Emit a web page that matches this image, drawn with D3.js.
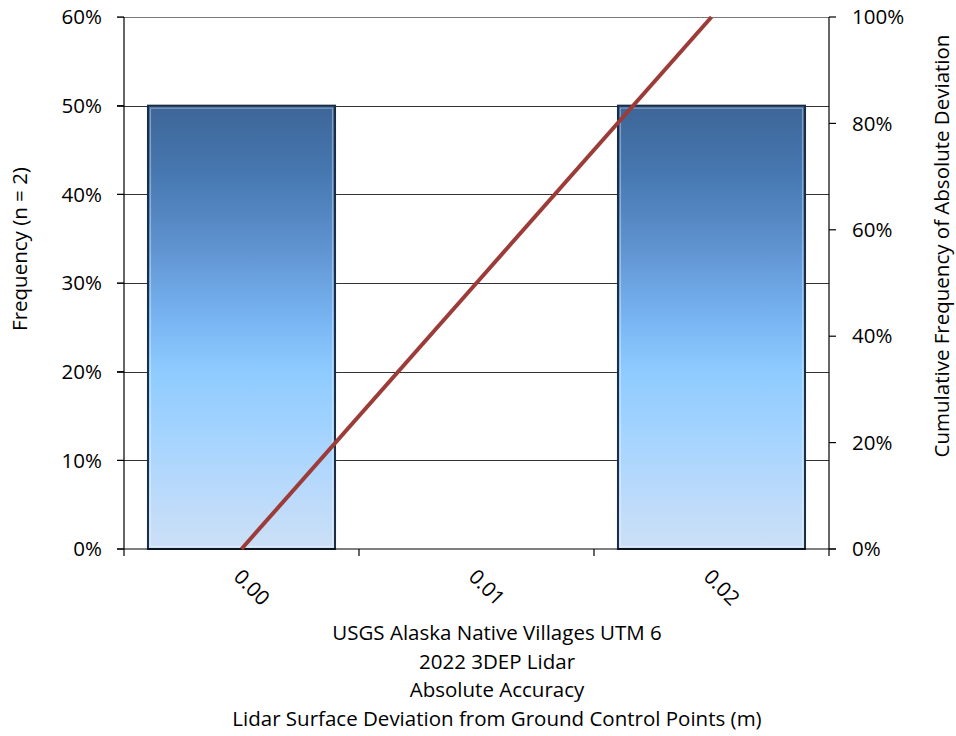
<!DOCTYPE html>
<html><head><meta charset="utf-8">
<script src="https://cdn.jsdelivr.net/npm/d3@7"></script>
<style>body{margin:0;background:#fff}svg{display:block}text{font-family:"Open Sans",sans-serif;fill:#000}</style>
</head><body>
<script>
const categories = ["0.00", "0.01", "0.02"];
const frequency = [0.5, 0, 0.5];
const cumulative = [0, 0.5, 1.0];
const leftTicks = [0, 0.1, 0.2, 0.3, 0.4, 0.5, 0.6];
const rightTicks = [0, 0.2, 0.4, 0.6, 0.8, 1.0];
const titleLines = ["USGS Alaska Native Villages UTM 6", "2022 3DEP Lidar", "Absolute Accuracy", "Lidar Surface Deviation from Ground Control Points (m)"];

const W = 956, H = 736;
const L = 124, R = 829, T = 17, B = 549;
const FS = 20.5;
const svg = d3.select("body").append("svg").attr("width", W).attr("height", H);

const defs = svg.append("defs");
const g = defs.append("linearGradient").attr("id", "barg").attr("x1", 0).attr("y1", 0).attr("x2", 0).attr("y2", 1);
[[0, "#3d6698"], [0.15, "#4677b0"], [0.32, "#5f93d0"], [0.48, "#78b4f2"], [0.6, "#8ecbff"], [0.75, "#a5d4ff"], [0.9, "#bedbfa"], [1, "#cbe0f6"]]
  .forEach(([o, c]) => g.append("stop").attr("offset", o).attr("stop-color", c));

const x = d3.scaleBand().domain(categories).range([L, R]).padding(0);
const yL = d3.scaleLinear().domain([0, 0.6]).range([B, T]);
const yR = d3.scaleLinear().domain([0, 1]).range([B, T]);

// gridlines
svg.append("g").selectAll("line").data(leftTicks.slice(1)).join("line")
  .attr("x1", L - 7).attr("x2", R).attr("y1", d => Math.round(yL(d)) + 0.5).attr("y2", d => Math.round(yL(d)) + 0.5)
  .attr("stroke", d => d === 0.6 ? "#7a7a7a" : "#333").attr("stroke-width", 1);

// bars
const bw = x.bandwidth() * 0.796;
const bars = svg.append("g").selectAll("g").data(categories.map((c, i) => ({c, v: frequency[i]})).filter(d => d.v > 0)).join("g");
bars.append("rect")
  .attr("x", d => x(d.c) + (x.bandwidth() - bw) / 2).attr("width", bw)
  .attr("y", d => yL(d.v)).attr("height", d => B - yL(d.v))
  .attr("fill", "url(#barg)").attr("stroke", "#1b2d44").attr("stroke-width", 2);
bars.append("rect")
  .attr("x", d => x(d.c) + (x.bandwidth() - bw) / 2 + 2.5).attr("width", bw - 5)
  .attr("y", d => yL(d.v) + 2.5).attr("height", d => B - yL(d.v) - 5)
  .attr("fill", "none").attr("stroke", "rgba(255,255,255,0.35)").attr("stroke-width", 1.2);

// axes
const ax = svg.append("g").attr("stroke", "#000").attr("stroke-width", 1.2);
ax.append("line").attr("x1", L).attr("x2", L).attr("y1", T).attr("y2", B + 7);
ax.append("line").attr("x1", R).attr("x2", R).attr("y1", T).attr("y2", B + 7);
ax.append("line").attr("x1", L - 7).attr("x2", R + 7).attr("y1", B).attr("y2", B);
leftTicks.forEach(t => ax.append("line").attr("x1", L - 7).attr("x2", L).attr("y1", yL(t)).attr("y2", yL(t)));
rightTicks.forEach(t => ax.append("line").attr("x1", R).attr("x2", R + 7).attr("y1", yR(t)).attr("y2", yR(t)));
categories.slice(1).forEach(c => ax.append("line").attr("x1", x(c)).attr("x2", x(c)).attr("y1", B).attr("y2", B + 7));

// cumulative line
svg.append("path").datum(cumulative)
  .attr("d", d3.line().x((d, i) => x(categories[i]) + x.bandwidth() / 2).y(d => yR(d)))
  .attr("fill", "none").attr("stroke", "#9c3b37").attr("stroke-width", 4);

// tick labels
const fmt = d3.format(".0%");
svg.append("g").selectAll("text").data(leftTicks).join("text")
  .attr("x", 102).attr("y", d => yL(d)).attr("dy", "0.35em").attr("text-anchor", "end")
  .attr("font-size", FS).text(fmt);
svg.append("g").selectAll("text").data(rightTicks).join("text")
  .attr("x", 852).attr("y", d => yR(d)).attr("dy", "0.35em").attr("text-anchor", "start")
  .attr("font-size", FS).text(fmt);
svg.append("g").selectAll("text").data(categories).join("text")
  .attr("transform", d => `translate(${x(d) + x.bandwidth() / 2 - 4},${B + 24}) rotate(45)`)
  .attr("text-anchor", "start").attr("dy", "0.35em").attr("font-size", FS).text(d => d);

// axis titles
svg.append("text").attr("transform", `translate(27,249) rotate(-90)`)
  .attr("text-anchor", "middle").attr("font-size", FS).text("Frequency (n = 2)");
svg.append("text").attr("transform", `translate(949,246) rotate(-90)`)
  .attr("text-anchor", "middle").attr("font-size", FS).text("Cumulative Frequency of Absolute Deviation");

svg.append("g").selectAll("text").data(titleLines).join("text")
  .attr("x", 497).attr("y", (d, i) => 640 + i * 28.7)
  .attr("text-anchor", "middle").attr("font-size", FS).text(d => d);
</script>
</body></html>
